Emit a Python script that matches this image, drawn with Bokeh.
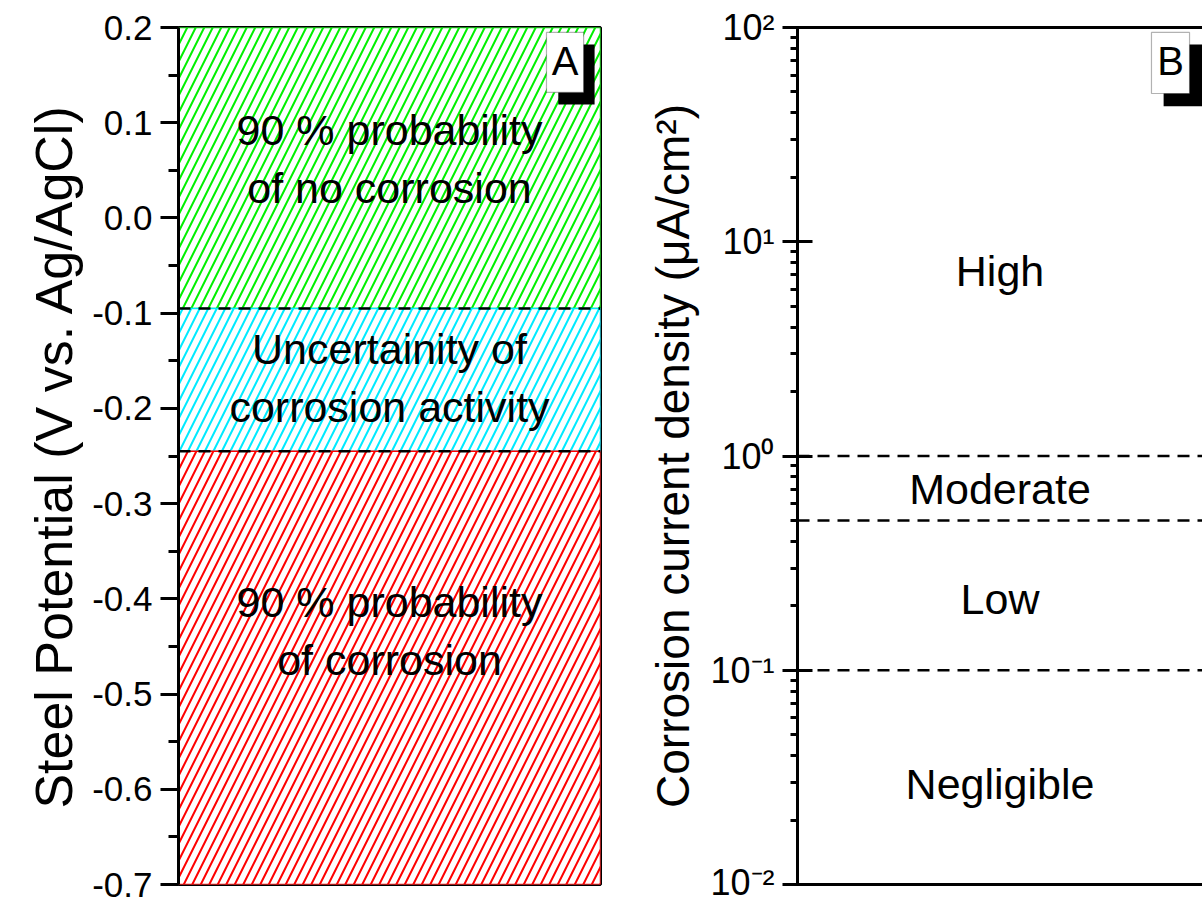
from bokeh.plotting import figure
from bokeh.layouts import row
from bokeh.models import (Range1d, FixedTicker, NumeralTickFormatter, Span, BoxAnnotation,
                          Label, LinearAxis)
from bokeh.core.properties import value
from bokeh.embed import file_html
from bokeh.resources import INLINE

FONT = "Liberation Sans"

# ---------------- Panel A data ----------------
zone_top = [0.2, -0.095, -0.245]
zone_bottom = [-0.095, -0.245, -0.7]
zone_colors = ["#00f000", "#00eaff", "#ff0000"]
zone_text = ["90 % probability\nof no corrosion",
             "Uncertainity of\ncorrosion activity",
             "90 % probability\nof corrosion"]
zone_text_y = [0.062, -0.168, -0.434]
a_thresholds = [-0.095, -0.245]
a_ticks = [0.2, 0.1, 0.0, -0.1, -0.2, -0.3, -0.4, -0.5, -0.6, -0.7]
a_minor = [0.15, 0.05, -0.05, -0.15, -0.25, -0.35, -0.45, -0.55, -0.65]

# ---------------- Panel B data ----------------
b_thresholds = [1.0, 0.5, 0.1]
b_text = ["High", "Moderate", "Low", "Negligible"]
b_text_y = [7.3, 0.70, 0.215, 0.0296]
b_ticks = [0.01, 0.1, 1.0, 10.0, 100.0]
b_tick_labels = ["10\u207b\u00b2", "10\u207b\u00b9", "10\u2070", "10\u00b9", "10\u00b2"]

TOP = 27
BOTTOM = 18

# ================= Panel A =================
pa = figure(width=640, height=902, output_backend="svg", toolbar_location=None,
            x_range=Range1d(0, 1), y_range=Range1d(-0.7, 0.2),
            min_border_left=178, min_border_right=40, min_border_top=TOP, min_border_bottom=BOTTOM)
pa.xaxis.visible = False
pa.xgrid.visible = False
pa.ygrid.visible = False
pa.outline_line_color = "black"
pa.outline_line_width = 3
pa.background_fill_color = "white"
pa.border_fill_color = "white"

pa.quad(left=[0, 0, 0], right=[1, 1, 1], top=zone_top, bottom=zone_bottom,
        fill_color="white", line_color=zone_colors, line_width=1.5,
        hatch_pattern="/", hatch_color=zone_colors, hatch_scale=17, hatch_weight=2.0)

for t in a_thresholds:
    pa.add_layout(Span(location=t, dimension="width", line_color="black",
                       line_width=2.5, line_dash="12 8"))

pa.text(x=[0.5, 0.5, 0.5], y=zone_text_y, text=zone_text, text_align="center",
        text_baseline="middle", text_font=value(FONT), text_font_size="43px",
        text_color="black", text_line_height=1.2)

ya = pa.yaxis[0]
ya.ticker = FixedTicker(ticks=a_ticks, minor_ticks=a_minor)
ya.formatter = NumeralTickFormatter(format="0.0")
ya.axis_label = "Steel Potential (V vs. Ag/AgCl)"
ya.axis_label_text_font = FONT
ya.axis_label_text_font_style = "normal"
ya.axis_label_text_font_size = "52px"
ya.axis_label_text_color = "black"
ya.axis_label_standoff = 6
ya.major_label_text_font = FONT
ya.major_label_text_font_size = "35px"
ya.major_label_text_color = "black"
ya.major_label_standoff = 8
ya.axis_line_width = 3
ya.major_tick_line_width = 3
ya.minor_tick_line_width = 3
ya.major_tick_out = 18
ya.major_tick_in = 0
ya.minor_tick_out = 10
ya.minor_tick_in = 0

pa.add_layout(BoxAnnotation(left=0.900, right=0.986, top=0.1822, bottom=0.1192,
                            fill_color="black", fill_alpha=1, line_color=None))
pa.add_layout(BoxAnnotation(left=0.872, right=0.960, top=0.1948, bottom=0.1318,
                            fill_color="white", fill_alpha=1, line_color="black", line_width=1.2))
pa.add_layout(Label(x=0.916, y=0.1645, text="A", text_align="center", text_baseline="middle",
                    text_font=FONT, text_font_size="40px", text_color="black"))

# ================= Panel B =================
pb = figure(width=562, height=902, output_backend="svg", toolbar_location=None,
            x_range=Range1d(0, 1), y_range=Range1d(0.01, 100), y_axis_type="log",
            min_border_left=157, min_border_right=0, min_border_top=TOP, min_border_bottom=BOTTOM)
pb.xaxis.visible = False
pb.xgrid.visible = False
pb.ygrid.visible = False
pb.outline_line_color = None
pb.background_fill_color = "white"
pb.border_fill_color = "white"

for side in ("above", "below"):
    ax = LinearAxis(ticker=FixedTicker(ticks=[]), axis_line_width=3,
                    major_label_text_font_size="0px", major_tick_line_color=None,
                    minor_tick_line_color=None)
    pb.add_layout(ax, side)

for t in b_thresholds:
    pb.add_layout(Span(location=t, dimension="width", line_color="black",
                       line_width=2.5, line_dash="12 8"))

pb.text(x=[0.5] * len(b_text), y=b_text_y, text=b_text, text_align="center",
        text_baseline="middle", text_font=value(FONT), text_font_size="43px",
        text_color="black")

minor_b = [k * 10.0 ** d for d in (-2, -1, 0, 1) for k in range(2, 10)]
yb = pb.yaxis[0]
yb.ticker = FixedTicker(ticks=b_ticks, minor_ticks=minor_b)
yb.major_label_overrides = {v: l for v, l in zip(b_ticks, b_tick_labels)}
yb.axis_label = "Corrosion current density (\u03bcA/cm\u00b2)"
yb.axis_label_text_font = FONT
yb.axis_label_text_font_style = "normal"
yb.axis_label_text_font_size = "46px"
yb.axis_label_text_color = "black"
yb.axis_label_standoff = 8
yb.major_label_text_font = FONT
yb.major_label_text_font_size = "36px"
yb.major_label_text_color = "black"
yb.major_label_standoff = 8
yb.axis_line_width = 3
yb.major_tick_line_width = 3
yb.minor_tick_line_width = 3
yb.major_tick_out = 15
yb.major_tick_in = 15
yb.minor_tick_out = 7
yb.minor_tick_in = 0

pb.add_layout(BoxAnnotation(left=0.904, right=1.0, top=83.3, bottom=42.9,
                            fill_color="black", fill_alpha=1, line_color=None))
pb.add_layout(BoxAnnotation(left=0.874, right=0.968, top=94.8, bottom=49.2,
                            fill_color="white", fill_alpha=1, line_color="black", line_width=1.2))
pb.add_layout(Label(x=0.921, y=69.8, text="B", text_align="center", text_baseline="middle",
                    text_font=FONT, text_font_size="40px", text_color="black"))

layout = row(pa, pb)
open("out.html", "w").write(file_html(layout, INLINE))
